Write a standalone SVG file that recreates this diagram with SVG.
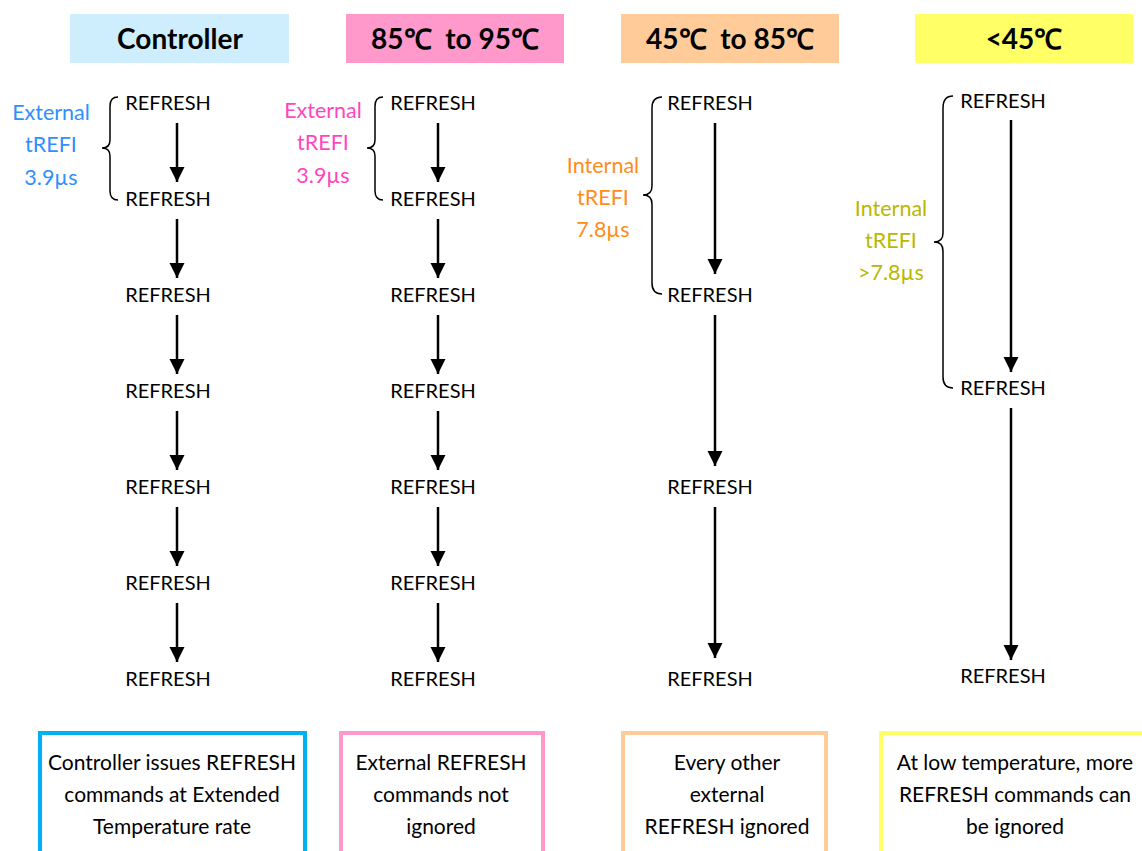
<svg xmlns="http://www.w3.org/2000/svg" width="1142" height="851" viewBox="0 0 1142 851">
<defs>
<marker id="ah" viewBox="0 0 10 10" refX="10" refY="5" markerWidth="6" markerHeight="8" markerUnits="strokeWidth" orient="auto">
<path d="M0,0 L10,5 L0,10 z" fill="#000"/>
</marker>
<style>
.hd{font-family:Lato,"Open Sans",sans-serif;font-weight:bold;font-size:28px;text-anchor:middle;fill:#000;white-space:pre}
.rf{font-family:Lato,"Open Sans",sans-serif;font-size:20px;text-anchor:middle;fill:#000}
.lb{font-family:Lato,"Open Sans",sans-serif;font-size:21.5px;text-anchor:middle}
.bx{font-family:Lato,"Open Sans",sans-serif;font-size:21px;text-anchor:middle;fill:#000}
.ar{stroke:#000;stroke-width:2.5;fill:none;marker-end:url(#ah)}
.br{stroke:#000;stroke-width:1.5;fill:none}
</style>
</defs>
<rect width="1142" height="851" fill="#fff"/>

<g id="headers">
<rect x="70" y="14" width="219" height="49" fill="#CFEEFD"/>
<text class="hd" x="180" y="49">Controller</text>
<rect x="346" y="14" width="218" height="49" fill="#FF99CC"/>
<text class="hd" x="455" y="49" xml:space="preserve">85℃  to 95℃</text>
<rect x="621" y="14" width="218" height="49" fill="#FFCC99"/>
<text class="hd" x="730" y="49" xml:space="preserve">45℃  to 85℃</text>
<rect x="915" y="14" width="218" height="49" fill="#FFFF66"/>
<text class="hd" x="1024" y="49">&lt;45℃</text>
</g>

<g id="col1">
<text class="rf" x="168" y="110">REFRESH</text>
<text class="rf" x="168" y="206">REFRESH</text>
<text class="rf" x="168" y="302">REFRESH</text>
<text class="rf" x="168" y="398">REFRESH</text>
<text class="rf" x="168" y="494">REFRESH</text>
<text class="rf" x="168" y="590">REFRESH</text>
<text class="rf" x="168" y="686">REFRESH</text>
<path class="br" d="M118,97 Q110,97 110,106 L110,140 Q110,148 102,148 Q110,148 110,156 L110,191 Q110,200 118,200"/>
<text class="lb" x="51" y="120" fill="#2F8FFF">External</text>
<text class="lb" x="51" y="152" fill="#2F8FFF">tREFI</text>
<text class="lb" x="51" y="185" fill="#2F8FFF">3.9µs</text>
</g>

<g id="col2">
<text class="rf" x="433" y="110">REFRESH</text>
<text class="rf" x="433" y="206">REFRESH</text>
<text class="rf" x="433" y="302">REFRESH</text>
<text class="rf" x="433" y="398">REFRESH</text>
<text class="rf" x="433" y="494">REFRESH</text>
<text class="rf" x="433" y="590">REFRESH</text>
<text class="rf" x="433" y="686">REFRESH</text>
<path class="br" d="M383,97 Q375,97 375,106 L375,140 Q375,148 367,148 Q375,148 375,156 L375,191 Q375,200 383,200"/>
<text class="lb" x="323" y="118" fill="#FF44C0">External</text>
<text class="lb" x="323" y="150" fill="#FF44C0">tREFI</text>
<text class="lb" x="323" y="183" fill="#FF44C0">3.9µs</text>
</g>

<g id="col3">
<text class="rf" x="710" y="110">REFRESH</text>
<text class="rf" x="710" y="302">REFRESH</text>
<text class="rf" x="710" y="494">REFRESH</text>
<text class="rf" x="710" y="686">REFRESH</text>
<path class="br" d="M662,97 Q652,97 652,108 L652,186 Q652,195 643,195 Q652,195 652,204 L652,283 Q652,294 662,294"/>
<text class="lb" x="603" y="173" fill="#FF8C1A">Internal</text>
<text class="lb" x="603" y="205" fill="#FF8C1A">tREFI</text>
<text class="lb" x="603" y="237" fill="#FF8C1A">7.8µs</text>
</g>

<g id="col4">
<text class="rf" x="1003" y="108">REFRESH</text>
<text class="rf" x="1003" y="395">REFRESH</text>
<text class="rf" x="1003" y="683">REFRESH</text>
<path class="br" d="M953,96 Q943,96 943,108 L943,233 Q943,242 934,242 Q943,242 943,251 L943,377 Q943,388 953,388"/>
<text class="lb" x="891" y="216" fill="#B8B800">Internal</text>
<text class="lb" x="891" y="248" fill="#B8B800">tREFI</text>
<text class="lb" x="891" y="280" fill="#B8B800">&gt;7.8µs</text>
</g>

<g id="connectors">
<line class="ar" x1="177" y1="123" x2="177" y2="182"/>
<line class="ar" x1="177" y1="219" x2="177" y2="278"/>
<line class="ar" x1="177" y1="315" x2="177" y2="374"/>
<line class="ar" x1="177" y1="411" x2="177" y2="470"/>
<line class="ar" x1="177" y1="507" x2="177" y2="566"/>
<line class="ar" x1="177" y1="603" x2="177" y2="662"/>
<line class="ar" x1="438" y1="123" x2="438" y2="182"/>
<line class="ar" x1="438" y1="219" x2="438" y2="278"/>
<line class="ar" x1="438" y1="315" x2="438" y2="374"/>
<line class="ar" x1="438" y1="411" x2="438" y2="470"/>
<line class="ar" x1="438" y1="507" x2="438" y2="566"/>
<line class="ar" x1="438" y1="603" x2="438" y2="662"/>
<line class="ar" x1="715" y1="123" x2="715" y2="274"/>
<line class="ar" x1="715" y1="315" x2="715" y2="466"/>
<line class="ar" x1="715" y1="507" x2="715" y2="658"/>
<line class="ar" x1="1011" y1="120" x2="1011" y2="372"/>
<line class="ar" x1="1011" y1="408" x2="1011" y2="660"/>
</g>

<g id="notes">
<rect x="40" y="733" width="265" height="130" fill="none" stroke="#00B0F0" stroke-width="4"/>
<text class="bx" x="172" y="770">Controller issues REFRESH</text>
<text class="bx" x="172" y="802">commands at Extended</text>
<text class="bx" x="172" y="834">Temperature rate</text>
<rect x="341" y="733" width="202" height="130" fill="none" stroke="#FF99CC" stroke-width="4"/>
<text class="bx" x="441" y="770">External REFRESH</text>
<text class="bx" x="441" y="802">commands not</text>
<text class="bx" x="441" y="834">ignored</text>
<rect x="623" y="733" width="203" height="130" fill="none" stroke="#FFCC99" stroke-width="4"/>
<text class="bx" x="727" y="770">Every other</text>
<text class="bx" x="727" y="802">external</text>
<text class="bx" x="727" y="834">REFRESH ignored</text>
<rect x="881" y="733" width="280" height="130" fill="none" stroke="#FFFF66" stroke-width="4"/>
<text class="bx" x="1015" y="770">At low temperature, more</text>
<text class="bx" x="1015" y="802">REFRESH commands can</text>
<text class="bx" x="1015" y="834">be ignored</text>
</g>
</svg>
